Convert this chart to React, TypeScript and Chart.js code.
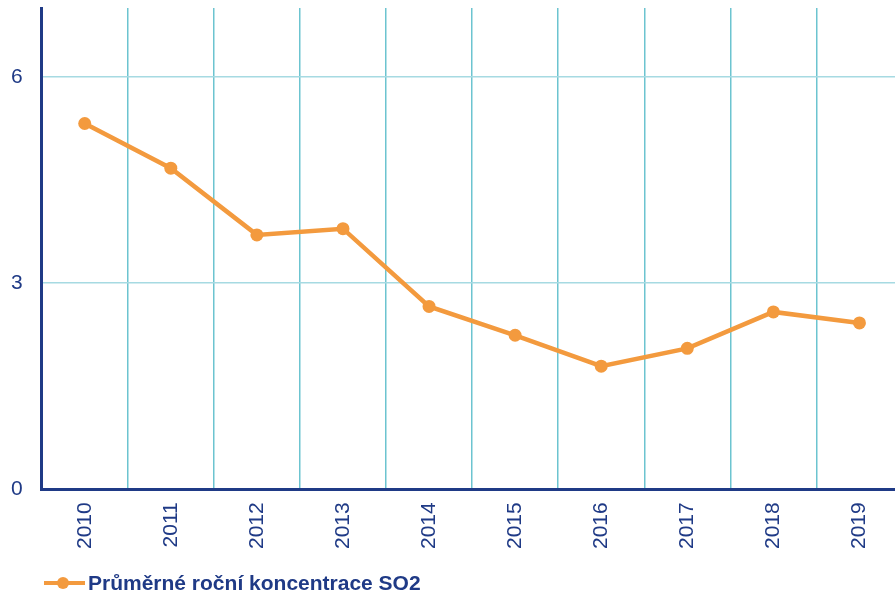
import React, { useEffect, useRef } from "react";
import { Chart, registerables } from "chart.js";

Chart.register(...registerables);

const years = ["2010", "2011", "2012", "2013", "2014", "2015", "2016", "2017", "2018", "2019"];
const so2 = [5.32, 4.67, 3.7, 3.79, 2.66, 2.24, 1.79, 2.05, 2.58, 2.42];
const yTicks = [0, 3, 6];
const seriesLabel = "Průměrné roční koncentrace SO2";

const ORANGE = "#F39A3E";
const NAVY = "#1F3A86";
const GRID_V = "#6CC4D0";
const GRID_H = "#A6DAE2";
const FONT = "Liberation Sans, Arial, sans-serif";

const CANVAS_W = 909;

export default function App() {
  const ref = useRef<HTMLCanvasElement>(null);
  useEffect(() => {
    if (!ref.current) return;
    const chart = new Chart(ref.current, {
      type: "line",
      data: {
        labels: years,
        datasets: [
          {
            label: seriesLabel,
            data: so2,
            borderColor: ORANGE,
            backgroundColor: ORANGE,
            borderWidth: 4.5,
            pointRadius: 6.5,
            pointBackgroundColor: ORANGE,
            pointBorderWidth: 0,
            tension: 0,
          },
        ],
      },
      options: {
        animation: false,
        responsive: false,
        maintainAspectRatio: false,
        layout: { padding: { top: 8, right: 0, left: -8, bottom: 34 } },
        plugins: {
          tooltip: { enabled: false },
          legend: { display: false },
        },
        scales: {
          x: {
            offset: true,
            afterFit: (axis: any) => {
              axis.paddingLeft = 0;
              axis.paddingRight = 0;
            },
            grid: {
              offset: true,
              color: GRID_V,
              lineWidth: 1.5,
              drawTicks: false,
            },
            border: { color: NAVY, width: 3 },
            ticks: {
              color: NAVY,
              font: { family: FONT, size: 21 },
              maxRotation: 90,
              minRotation: 90,
              padding: 13,
            },
          },
          y: {
            min: 0,
            max: 7,
            afterBuildTicks: (axis: any) => {
              axis.ticks = yTicks.map((v) => ({ value: v }));
            },
            afterFit: (axis: any) => {
              axis.paddingTop = 0;
              axis.paddingBottom = 0;
            },
            grid: {
              color: (ctx: any) => (ctx.tick && ctx.tick.value === 0 ? "rgba(0,0,0,0)" : GRID_H),
              lineWidth: 1.5,
              drawTicks: false,
            },
            border: { color: NAVY, width: 3 },
            ticks: {
              color: NAVY,
              font: { family: FONT, size: 21 },
              padding: 19,
            },
          },
        },
      },
    });
    return () => chart.destroy();
  }, []);
  return (
    <div style={{ position: "absolute", left: 0, top: 0, width: 895, height: 596, background: "#fff", overflow: "hidden" }}>
      <canvas ref={ref} width={CANVAS_W} height={596} style={{ width: CANVAS_W, height: 596, display: "block" }} />
      <div
        style={{
          position: "absolute",
          left: 44,
          top: 569,
          height: 28,
          display: "flex",
          alignItems: "center",
          fontFamily: FONT,
          fontWeight: "bold",
          fontSize: 21,
          color: NAVY,
          whiteSpace: "nowrap",
        }}
      >
        <svg width={41} height={14} style={{ marginRight: 3 }}>
          <line x1={0} y1={7} x2={41} y2={7} stroke={ORANGE} strokeWidth={4} />
          <circle cx={19} cy={7} r={6} fill={ORANGE} />
        </svg>
        <span>{seriesLabel}</span>
      </div>
    </div>
  );
}
